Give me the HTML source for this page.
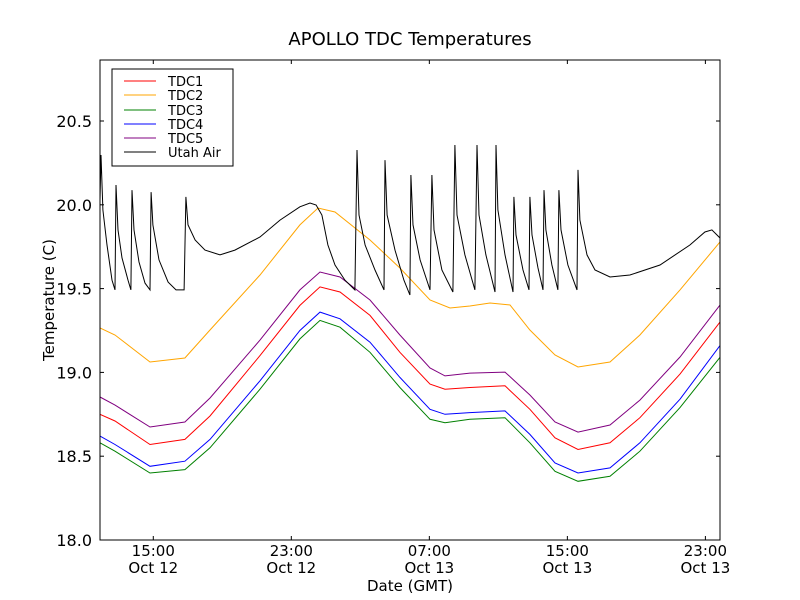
<!DOCTYPE html>
<html><head><meta charset="utf-8"><style>
body{margin:0;background:#fff;}
svg{display:block;font-family:"DejaVu Sans","Liberation Sans",sans-serif;}
</style></head><body>
<svg id="chart" width="800" height="600" xmlns="http://www.w3.org/2000/svg"></svg>
<script>
const xTickHours=[-0.39,7.64,15.67,23.7,31.73];
const xTickLabels1=["15:00","23:00","07:00","15:00","23:00"];
const xTickLabels2=["Oct 12","Oct 12","Oct 13","Oct 13","Oct 13"];
const yTicks=[18.0,18.5,19.0,19.5,20.0,20.5];
const seriesNames=["TDC1","TDC2","TDC3","TDC4","TDC5","Utah Air"];
const tdcTimes=[-3.49,-2.62,-0.58,1.45,2.91,5.82,8.14,9.31,10.47,12.22,13.96,15.71,16.58,18.03,20.07,21.52,22.98,24.32,26.18,27.92,30.25,32.58];
const tdc1=[18.75,18.71,18.57,18.6,18.74,19.1,19.4,19.51,19.48,19.34,19.12,18.93,18.9,18.91,18.92,18.78,18.61,18.54,18.58,18.73,18.99,19.3];
const tdc3=[18.58,18.53,18.4,18.42,18.55,18.9,19.2,19.31,19.27,19.12,18.91,18.72,18.7,18.72,18.73,18.58,18.41,18.35,18.38,18.53,18.79,19.09];
const tdc4=[18.62,18.57,18.44,18.47,18.6,18.95,19.25,19.36,19.32,19.18,18.97,18.78,18.75,18.76,18.77,18.63,18.46,18.4,18.43,18.58,18.84,19.16];
const tdc5=[18.853,18.805,18.674,18.704,18.847,19.193,19.492,19.599,19.569,19.432,19.223,19.026,18.979,18.996,19.002,18.865,18.704,18.644,18.686,18.835,19.092,19.402];
const tdc2Times=[-3.49,-2.62,-0.58,1.45,2.91,5.82,8.14,9.19,10.18,12.22,13.96,15.71,16.87,18.03,19.2,20.36,21.52,22.98,24.32,26.18,27.92,30.25,32.58];
const tdc2=[19.265,19.223,19.062,19.086,19.253,19.581,19.88,19.981,19.957,19.79,19.623,19.432,19.384,19.396,19.414,19.402,19.253,19.104,19.032,19.062,19.223,19.492,19.778];
const airTimes=[-3.49,-3.43,-3.32,-3.08,-2.79,-2.62,-2.56,-2.44,-2.21,-1.86,-1.69,-1.63,-1.51,-1.22,-0.87,-0.58,-0.52,-0.41,-0.06,0.47,0.93,1.40,1.51,1.63,2.04,2.62,3.49,4.36,5.82,6.98,8.14,8.73,9.08,9.42,9.77,10.18,10.76,11.34,11.46,11.58,11.93,12.51,13.03,13.09,13.21,13.67,14.19,14.54,14.60,14.72,15.13,15.71,15.82,15.94,16.40,17.04,17.16,17.28,17.74,18.32,18.44,18.56,18.96,19.49,19.55,19.66,20.07,20.54,20.59,20.71,21.12,21.47,21.52,21.64,21.99,22.28,22.34,22.45,22.80,23.15,23.21,23.33,23.73,24.26,24.32,24.43,24.84,25.31,26.18,27.34,29.09,30.83,31.70,32.11,32.58];
const airTemps=[20.029,20.297,19.969,19.76,19.551,19.492,20.118,19.85,19.683,19.551,19.492,20.088,19.85,19.659,19.533,19.492,20.076,19.88,19.671,19.539,19.492,19.492,20.047,19.88,19.79,19.73,19.701,19.73,19.808,19.909,19.988,20.011,19.999,19.939,19.76,19.641,19.551,19.492,20.327,19.939,19.76,19.611,19.492,20.267,19.939,19.73,19.551,19.462,20.178,19.88,19.671,19.492,20.178,19.85,19.611,19.48,20.357,19.939,19.701,19.492,20.357,19.939,19.701,19.48,20.357,19.969,19.701,19.48,20.047,19.82,19.611,19.492,20.047,19.82,19.623,19.492,20.088,19.85,19.641,19.492,20.088,19.85,19.641,19.492,20.208,19.909,19.701,19.611,19.569,19.581,19.641,19.76,19.838,19.85,19.802];
const colors=["#ff0000","#ffa500","#008000","#0000ff","#800080","#000000"];

const L=100,R=720,T=60,B=540,XMIN=-3.49,XMAX=32.58,YMIN=18.0,YMAX=20.864;
const sx=h=>L+(h-XMIN)/(XMAX-XMIN)*(R-L);
const sy=v=>B-(v-YMIN)/(YMAX-YMIN)*(B-T);
const svg=document.getElementById('chart');
const NS="http://www.w3.org/2000/svg";
function mk(tag,attrs,parent){const e=document.createElementNS(NS,tag);for(const k in attrs)e.setAttribute(k,attrs[k]);(parent||svg).appendChild(e);return e;}

const clip=mk('clipPath',{id:'plotclip'});mk('rect',{x:L,y:T,width:R-L,height:B-T},clip);
const plot=mk('g',{'clip-path':'url(#plotclip)'});


function line(times,vals,color,name){
  const d=times.map((t,i)=>(i?'L':'M')+sx(t).toFixed(1)+','+sy(vals[i]).toFixed(1)).join('');
  const p=mk('path',{d:d,fill:'none',stroke:color,'stroke-width':1},plot);
  
  
}
line(tdc2Times,tdc2,colors[1],'tdc2-line');
line(tdcTimes,tdc5,colors[4],'tdc5-line');
line(tdcTimes,tdc1,colors[0],'tdc1-line');
line(tdcTimes,tdc4,colors[3],'tdc4-line');
line(tdcTimes,tdc3,colors[2],'tdc3-line');
line(airTimes,airTemps,colors[5],'utah-air-line');

const frame=mk('rect',{x:L,y:T,width:R-L,height:B-T,fill:'none',stroke:'#000','stroke-width':1});



yTicks.forEach(v=>{
  const y=sy(v);
  mk('line',{x1:L,x2:L+4,y1:y,y2:y,stroke:'#000'});
  mk('line',{x1:R,x2:R-4,y1:y,y2:y,stroke:'#000'});
  const t=mk('text',{x:L-8,y:y+6,'text-anchor':'end','font-size':16});
  t.textContent=v.toFixed(1);
  
  
});
xTickHours.forEach((h,i)=>{
  const x=sx(h);
  mk('line',{x1:x,x2:x,y1:B,y2:B-4,stroke:'#000'});
  mk('line',{x1:x,x2:x,y1:T,y2:T+4,stroke:'#000'});
  const t=mk('text',{x:x,y:B+16,'text-anchor':'middle','font-size':15});
  t.textContent=xTickLabels1[i];
  
  
  const t2=mk('text',{x:x,y:B+33,'text-anchor':'middle','font-size':15});
  t2.textContent=xTickLabels2[i];
  
  
});
</script>
<svg style="position:absolute;left:0;top:0" width="800" height="600" xmlns="http://www.w3.org/2000/svg" font-family="DejaVu Sans, Liberation Sans, sans-serif">
<text x="410" y="45" text-anchor="middle" font-size="18">APOLLO TDC Temperatures</text>
<text x="410" y="591" text-anchor="middle" font-size="15">Date (GMT)</text>
<text x="0" y="0" transform="translate(54,300) rotate(-90)" text-anchor="middle" font-size="15">Temperature (C)</text>
<g font-size="13">
<rect x="112" y="69" width="121" height="97" fill="#fff" stroke="#000"/>
<g><line x1="124" x2="156" y1="81" y2="81" stroke="#ff0000"/><text x="168" y="86">TDC1</text></g>
<g><line x1="124" x2="156" y1="95" y2="95" stroke="#ffa500"/><text x="168" y="100">TDC2</text></g>
<g><line x1="124" x2="156" y1="110" y2="110" stroke="#008000"/><text x="168" y="115">TDC3</text></g>
<g><line x1="124" x2="156" y1="124" y2="124" stroke="#0000ff"/><text x="168" y="129">TDC4</text></g>
<g><line x1="124" x2="156" y1="138" y2="138" stroke="#800080"/><text x="168" y="143">TDC5</text></g>
<g><line x1="124" x2="156" y1="152" y2="152" stroke="#000"/><text x="168" y="157">Utah Air</text></g>
</g>
</svg>
</body></html>
